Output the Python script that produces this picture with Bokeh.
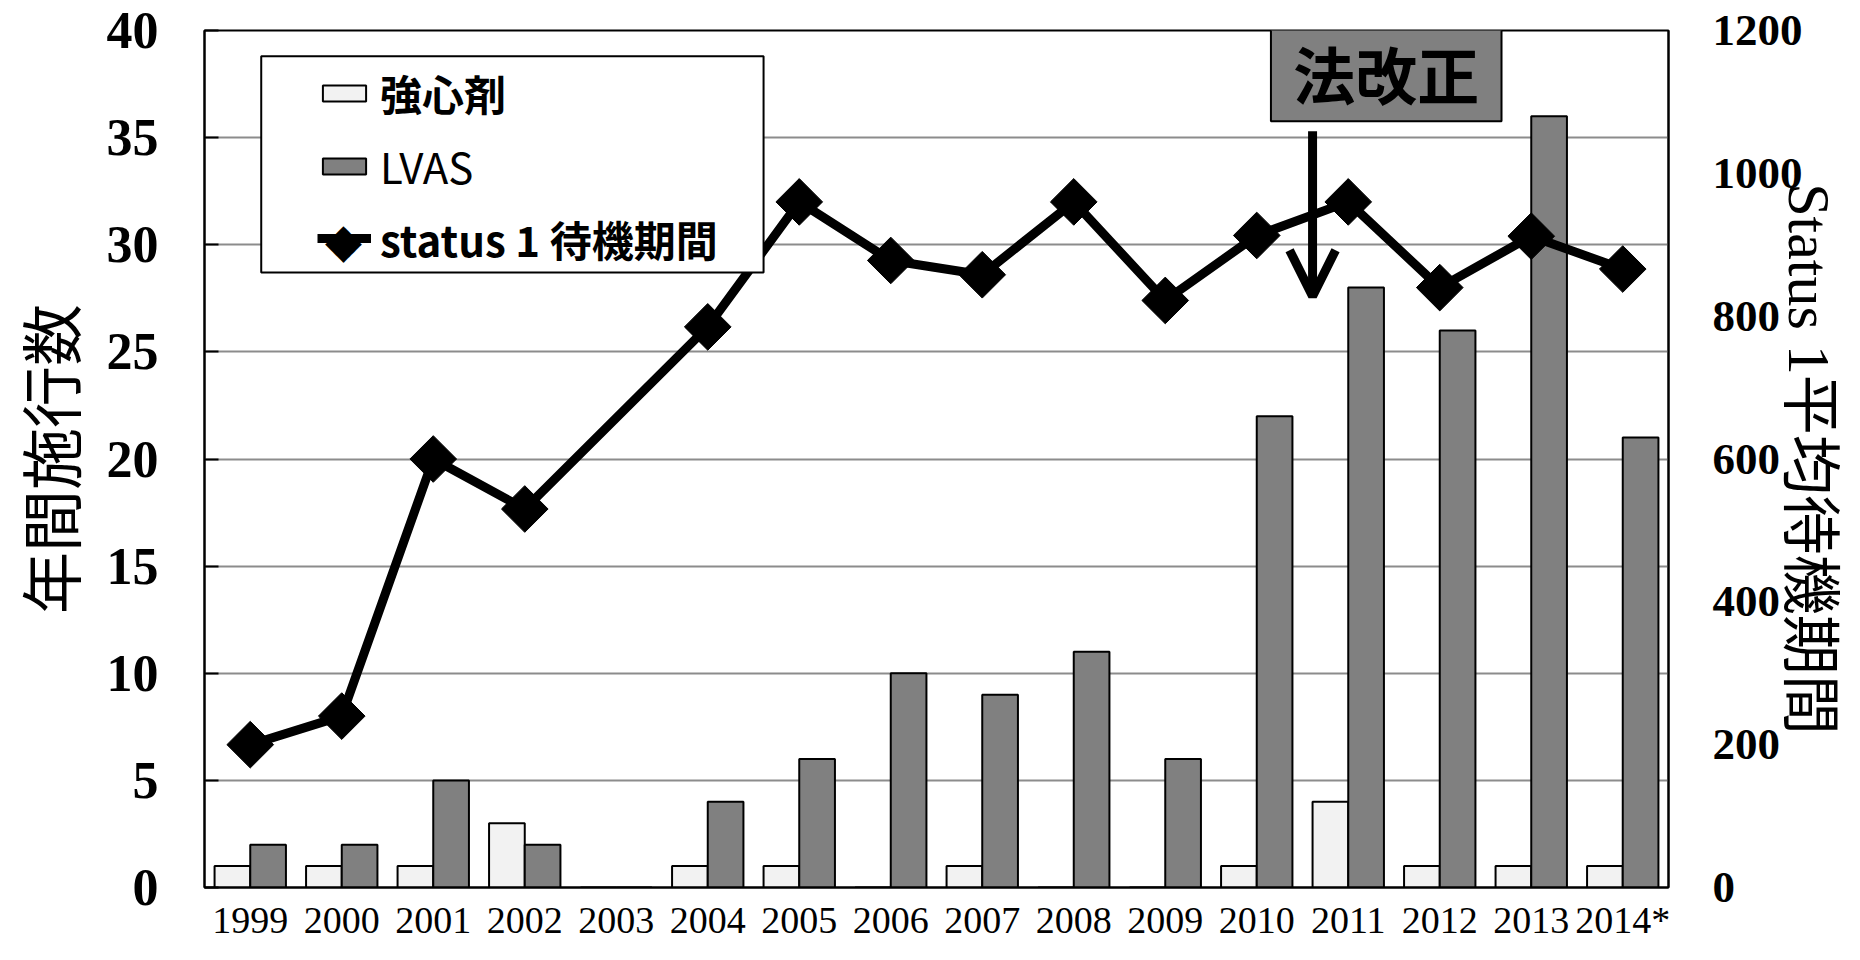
import math
from bokeh.plotting import figure
from bokeh.models import (ColumnDataSource, FactorRange, Range1d, LinearAxis, FixedTicker,
                          Legend, LegendItem, BoxAnnotation, Label, Arrow, OpenHead)
from bokeh.transform import dodge
from bokeh.embed import file_html
from bokeh.resources import INLINE

# ---------------- data ----------------
years = ["1999", "2000", "2001", "2002", "2003", "2004", "2005", "2006",
         "2007", "2008", "2009", "2010", "2011", "2012", "2013", "2014*"]
inotrope_counts = [1, 1, 1, 3, 0, 1, 1, 0, 1, 0, 0, 1, 4, 1, 1, 1]      # 強心剤
lvas_counts = [2, 2, 5, 2, 0, 4, 6, 10, 9, 11, 6, 22, 28, 26, 36, 21]   # LVAS
wait_years = ["1999", "2000", "2001", "2002", "2004", "2005", "2006", "2007",
              "2008", "2009", "2010", "2011", "2012", "2013", "2014*"]
wait_days = [200, 240, 600, 530, 785, 960, 878, 858, 960, 822, 913, 960, 840, 912, 866]
left_ticks = [0, 5, 10, 15, 20, 25, 30, 35, 40]
right_ticks = [0, 200, 400, 600, 800, 1000, 1200]

SERIF = "Liberation Serif"
CJK = "Noto Sans CJK JP"

bars = ColumnDataSource(dict(year=years, strong=inotrope_counts, lvas=lvas_counts))
line_src = ColumnDataSource(dict(year=wait_years, wait=wait_days))

p = figure(x_range=FactorRange(factors=years, range_padding=0),
           y_range=Range1d(0, 40),
           width=1844, height=944,
           output_backend="svg", toolbar_location=None,
           min_border_left=198, min_border_right=171,
           min_border_top=30, min_border_bottom=57,
           background_fill_color="white", border_fill_color="white")
p.extra_y_ranges = {"right": Range1d(0, 1200)}

p.outline_line_color = "black"
p.outline_line_width = 2

# ---------------- bars ----------------
b1 = p.vbar(x=dodge("year", -0.195, range=p.x_range), top="strong", width=0.39,
            source=bars, fill_color="#f2f2f2", line_color="black", line_width=2)
b2 = p.vbar(x=dodge("year", 0.195, range=p.x_range), top="lvas", width=0.39,
            source=bars, fill_color="#808080", line_color="black", line_width=2)

# ---------------- line ----------------
ln = p.line(x="year", y="wait", source=line_src, y_range_name="right",
            line_color="black", line_width=9)
sc = p.scatter(x="year", y="wait", source=line_src, y_range_name="right",
               marker="square", angle=math.pi / 4, size=33,
               fill_color="black", line_color="black")

# ---------------- axes ----------------
ya = p.yaxis[0]
ya.ticker = FixedTicker(ticks=left_ticks)
ya.major_label_text_font = SERIF
ya.major_label_text_font_style = "bold"
ya.major_label_text_font_size = "52px"
ya.major_label_text_color = "black"
ya.major_tick_in = 14
ya.major_tick_out = 0
ya.minor_tick_in = 0
ya.minor_tick_out = 0
ya.major_tick_line_color = "black"
ya.major_tick_line_width = 2
ya.axis_line_color = "black"
ya.axis_line_width = 2
ya.major_label_standoff = 46
ya.axis_label = "年間施行数"
ya.axis_label_text_font = CJK
ya.axis_label_text_font_style = "normal"
ya.axis_label_text_font_size = "62px"
ya.axis_label_text_color = "black"
ya.axis_label_standoff = 10

ra = LinearAxis(y_range_name="right", ticker=FixedTicker(ticks=right_ticks))
ra.major_label_text_font = SERIF
ra.major_label_text_font_style = "bold"
ra.major_label_text_font_size = "45px"
ra.major_label_text_color = "black"
ra.major_tick_in = 0
ra.major_tick_out = 0
ra.minor_tick_in = 0
ra.minor_tick_out = 0
ra.axis_line_color = "black"
ra.axis_line_width = 2
ra.major_label_standoff = 44
ra.axis_label = "Status 1平均待機期間"
ra.axis_label_text_font = SERIF + ", " + CJK
ra.axis_label_text_font_style = "normal"
ra.axis_label_text_font_size = "60px"
ra.axis_label_text_color = "black"
ra.axis_label_standoff = -30
p.add_layout(ra, "right")

xa = p.xaxis[0]
xa.major_label_text_font = SERIF
xa.major_label_text_font_style = "normal"
xa.major_label_text_font_size = "38px"
xa.major_label_text_color = "black"
xa.major_tick_in = 0
xa.major_tick_out = 0
xa.axis_line_color = "black"
xa.axis_line_width = 2
xa.major_label_standoff = 11

p.xgrid.grid_line_color = None
p.ygrid.ticker = FixedTicker(ticks=left_ticks)
p.ygrid.grid_line_color = "#8c8c8c"
p.ygrid.grid_line_width = 2

# ---------------- legend ----------------
legend_box = BoxAnnotation(left=0.62, right=6.11, bottom=28.7, top=38.8,
                           fill_color="white", fill_alpha=1.0,
                           line_color="black", line_width=2, line_alpha=1.0)
p.add_layout(legend_box)

common = dict(orientation="vertical", border_line_alpha=0, background_fill_alpha=0,
              padding=0, spacing=0, margin=0, label_standoff=9, label_height=20,
              label_text_font=CJK, label_text_font_size="42px", label_text_color="black")
leg1 = Legend(items=[LegendItem(label="強心剤", renderers=[b1])],
              location=(113, 764), glyph_width=54, glyph_height=20,
              label_text_font_style="bold", **common)
leg2 = Legend(items=[LegendItem(label="LVAS", renderers=[b2])],
              location=(113, 691), glyph_width=54, glyph_height=20,
              label_text_font_style="normal", **common)
leg3 = Legend(items=[LegendItem(label="status 1 待機期間", renderers=[ln])],
              location=(113, 614), glyph_width=54, glyph_height=70,
              label_text_font_style="bold", **common)
for lg in (leg1, leg2, leg3):
    p.add_layout(lg)
# diamond marker of the legend's line entry
p.add_layout(Label(x=1.518, y=30.2, text="◆", text_align="center",
                   text_baseline="middle", text_font="DejaVu Sans",
                   text_font_size="48px", text_color="black"))

# ---------------- 法改正 annotation ----------------
law_box = BoxAnnotation(left=11.655, right=14.175, bottom=35.76, top=40.28,
                        fill_color="#808080", fill_alpha=1.0,
                        line_color="black", line_width=2, line_alpha=1.0)
p.add_layout(law_box)
p.add_layout(Label(x=12.915, y=38.0, text="法改正", text_align="center",
                   text_baseline="middle", text_font=CJK, text_font_style="bold",
                   text_font_size="62px", text_color="black"))
p.add_layout(Arrow(end=OpenHead(size=46, line_width=9, line_color="black"),
                   x_start=12.11, y_start=35.3, x_end=12.11, y_end=27.6,
                   line_width=9, line_color="black"))

open("out.html", "w").write(file_html(p, INLINE))
